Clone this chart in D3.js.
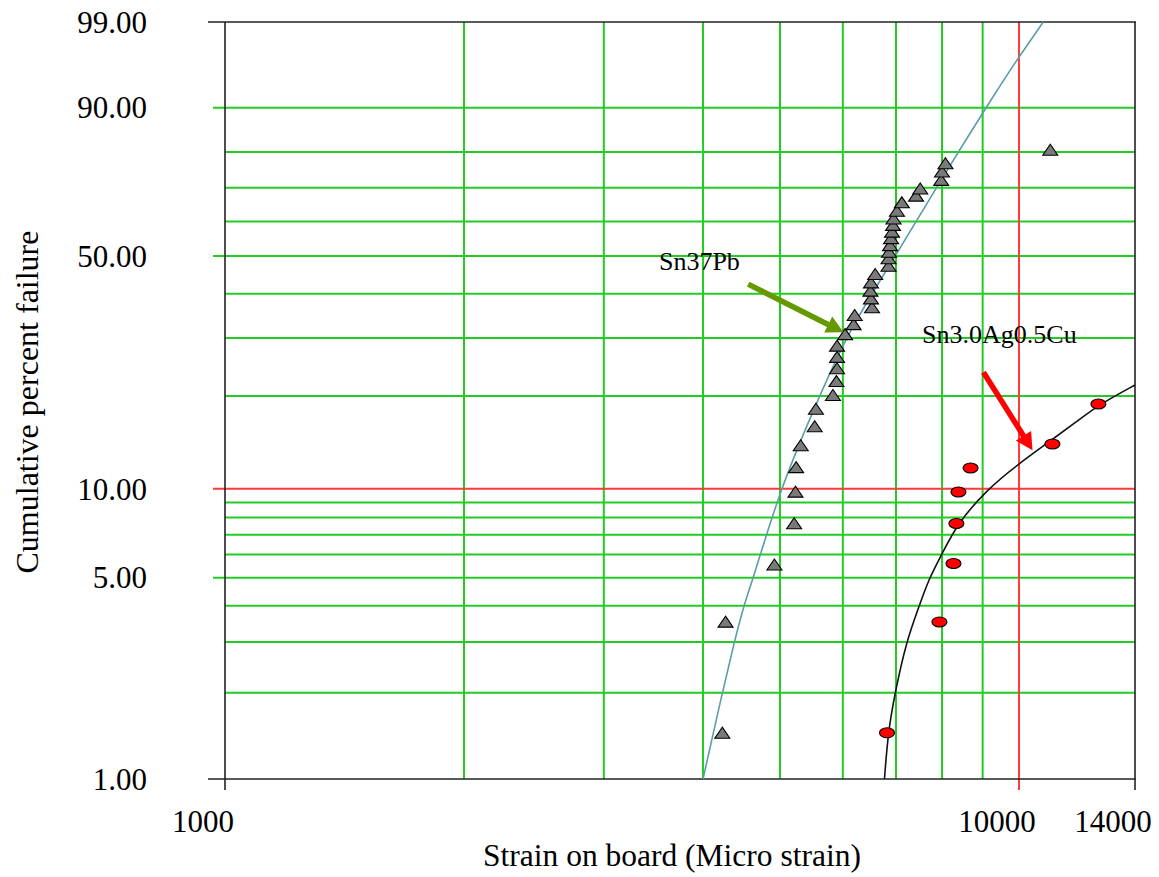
<!DOCTYPE html>
<html>
<head>
<meta charset="utf-8">
<script src="https://cdn.jsdelivr.net/npm/d3@7"></script>
<style>
  body { margin: 0; background: #fff; }
  svg { display: block; }
</style>
</head>
<body>
<div id="chart"></div>
<script>
// Sn37Pb failures: strain (micro strain) and cumulative percent failure
const pbStrain = [4230, 4270, 4920, 5210, 5230, 5240, 5310, 5530, 5550, 5830,
  5890, 5900, 5900, 5900, 6040, 6190, 6210, 6530, 6510, 6500,
  6510, 6590, 6850, 6850, 6860, 6880, 6900, 6920, 6940, 6950,
  7020, 7120, 7420, 7510, 7980, 8000, 8080, 10950];
const pbPct = [1.44, 3.5, 5.5, 7.6, 9.7, 11.7, 13.8, 15.9, 18.1, 20.0,
  22.1, 24.2, 26.2, 28.3, 30.6, 32.7, 34.7, 36.5, 38.6, 40.5,
  42.6, 44.8, 47.0, 49.1, 50.9, 52.8, 54.8, 56.7, 58.7, 60.6,
  62.9, 65.4, 67.4, 69.5, 72.0, 74.4, 76.7, 80.3];

// Sn3.0Ag0.5Cu failures
const sacStrain = [6820, 7940, 8270, 8340, 8390, 8690, 11020, 12590];
const sacPct = [1.45, 3.52, 5.59, 7.64, 9.75, 11.71, 14.04, 18.87];

// fitted curves
const pbFitStrain = [4000, 4230, 4380, 4500, 4630, 5000, 5490, 6100, 7030, 7870, 9470, 9980, 10730];
const pbFitPct = [1.0, 2.0, 3.0, 4.0, 5.0, 9.9, 17.7, 31.6, 50.8, 70.2, 93.7, 96.8, 99.0];
const sacFitStrain = [6770, 6840, 6980, 7210, 7490, 7690, 8010, 8360, 9100, 9980, 10950, 11850, 12590, 14000];
const sacFitPct = [1.0, 1.45, 2.0, 3.0, 4.0, 4.91, 6.07, 7.61, 9.9, 12.07, 14.36, 16.66, 18.73, 21.64];

// grid and tick values
const gridStrain = [2000, 3000, 4000, 5000, 6000, 7000, 8000, 9000];
const redStrain = [10000];
const gridPct = [2, 3, 4, 5, 6, 7, 8, 9, 20, 30, 40, 50, 60, 70, 80, 90];
const redPct = [10];
const yTickLabels = [1, 5, 10, 50, 90, 99];
const xTickLabels = [1000, 10000, 14000];

// annotations (data coordinates)
const notes = [
  { label: "Sn37Pb", tx: 3520, tp: 46.1, from: [4560, 42.4], to: [6010, 31.2], color: "#669900" },
  { label: "Sn3.0Ag0.5Cu", tx: 7550, tp: 29.0, from: [9020, 23.7], to: [10400, 13.4], color: "#ff0000" }
];

const W = 1159, H = 877;
const plot = { left: 225, right: 1135, top: 22, bottom: 779 };

const svg = d3.select("#chart").append("svg")
  .attr("width", W)
  .attr("height", H)
  .attr("font-family", "'Liberation Serif', 'DejaVu Serif', 'Times New Roman', serif")
  .style("font-family", "'Liberation Serif', 'DejaVu Serif', 'Times New Roman', serif");

const x = d3.scaleLog().domain([1000, 14000]).range([plot.left, plot.right]);
// Weibull probability scale
const weib = p => Math.log(-Math.log(1 - p / 100));
const yW = d3.scaleLinear().domain([weib(1), weib(99)]).range([plot.bottom, plot.top]);
const y = p => yW(weib(p));

const green = "#22cc22", red = "#ff3a3a", frame = "#222";

// grid lines
const grid = svg.append("g");
grid.selectAll(".gx").data(gridStrain).join("line")
  .attr("x1", d => x(d)).attr("x2", d => x(d))
  .attr("y1", plot.top).attr("y2", plot.bottom)
  .attr("stroke", green).attr("stroke-width", 2);
grid.selectAll(".gy").data(gridPct).join("line")
  .attr("x1", d => yTickLabels.includes(d) ? plot.left - 12 : plot.left)
  .attr("x2", plot.right)
  .attr("y1", d => y(d)).attr("y2", d => y(d))
  .attr("stroke", green).attr("stroke-width", 2);
grid.selectAll(".ry").data(redPct).join("line")
  .attr("x1", plot.left - 12).attr("x2", plot.right)
  .attr("y1", d => y(d)).attr("y2", d => y(d))
  .attr("stroke", red).attr("stroke-width", 2);
grid.selectAll(".rx").data(redStrain).join("line")
  .attr("x1", d => x(d)).attr("x2", d => x(d))
  .attr("y1", plot.top).attr("y2", plot.bottom + 11)
  .attr("stroke", red).attr("stroke-width", 2);

// frame
const fr = svg.append("g").attr("stroke", frame).attr("stroke-width", 1.6);
fr.append("line").attr("x1", plot.left - 17).attr("x2", plot.right + 1)
  .attr("y1", y(99)).attr("y2", y(99));
fr.append("line").attr("x1", plot.left - 17).attr("x2", plot.right + 1)
  .attr("y1", y(1)).attr("y2", y(1));
fr.append("line").attr("x1", x(1000)).attr("x2", x(1000))
  .attr("y1", plot.top).attr("y2", plot.bottom + 11);
fr.append("line").attr("x1", x(14000)).attr("x2", x(14000))
  .attr("y1", plot.top).attr("y2", plot.bottom + 11);

// tick labels
svg.append("g").selectAll("text").data(yTickLabels).join("text")
  .attr("x", 147).attr("y", d => y(d)).attr("dy", "0.35em")
  .attr("text-anchor", "end").attr("font-size", 31)
  .text(d => d3.format(".2f")(d));
svg.append("g").selectAll("text").data(xTickLabels).join("text")
  .attr("x", d => x(d) - 22).attr("y", 832)
  .attr("text-anchor", "middle").attr("font-size", 31)
  .text(d => d);

// axis titles
svg.append("text")
  .attr("x", 672).attr("y", 866)
  .attr("text-anchor", "middle").attr("font-size", 31.5)
  .text("Strain on board (Micro strain)");
svg.append("text")
  .attr("transform", "translate(38,402) rotate(-90)")
  .attr("text-anchor", "middle").attr("font-size", 32)
  .text("Cumulative percent failure");

// fit curves
const lineGen = d3.line()
  .x(d => x(d[0]))
  .y(d => y(d[1]))
  .curve(d3.curveBasis);
svg.append("path")
  .attr("d", lineGen(d3.zip(pbFitStrain, pbFitPct)))
  .attr("fill", "none").attr("stroke", "#5a9ea6").attr("stroke-width", 1.6);
svg.append("path")
  .attr("d", lineGen(d3.zip(sacFitStrain, sacFitPct)))
  .attr("fill", "none").attr("stroke", "#111").attr("stroke-width", 1.6);

// markers
svg.append("g").selectAll("path").data(d3.zip(pbStrain, pbPct)).join("path")
  .attr("transform", d => `translate(${x(d[0])},${y(d[1])})`)
  .attr("d", "M0,-6.5L7.5,4.5L-7.5,4.5Z")
  .attr("fill", "#7a7a7a").attr("stroke", "#000").attr("stroke-width", 1.1);
svg.append("g").selectAll("ellipse").data(d3.zip(sacStrain, sacPct)).join("ellipse")
  .attr("cx", d => x(d[0])).attr("cy", d => y(d[1]))
  .attr("rx", 7.5).attr("ry", 5)
  .attr("fill", "#ff0000").attr("stroke", "#000").attr("stroke-width", 1.1);

// annotations with arrows
notes.forEach(n => {
  svg.append("text")
    .attr("x", x(n.tx)).attr("y", y(n.tp))
    .attr("font-size", 26)
    .text(n.label);
  const x1 = x(n.from[0]), y1 = y(n.from[1]);
  const x2 = x(n.to[0]), y2 = y(n.to[1]);
  const len = Math.hypot(x2 - x1, y2 - y1);
  const ux = (x2 - x1) / len, uy = (y2 - y1) / len;
  const hl = 17, hw = 9;
  const bx = x2 - ux * hl, by = y2 - uy * hl;
  svg.append("line")
    .attr("x1", x1).attr("y1", y1).attr("x2", bx + ux * 2).attr("y2", by + uy * 2)
    .attr("stroke", n.color).attr("stroke-width", 5.5);
  svg.append("path")
    .attr("d", `M${x2},${y2}L${bx - uy * hw},${by + ux * hw}L${bx + uy * hw},${by - ux * hw}Z`)
    .attr("fill", n.color);
});
</script>
</body>
</html>
